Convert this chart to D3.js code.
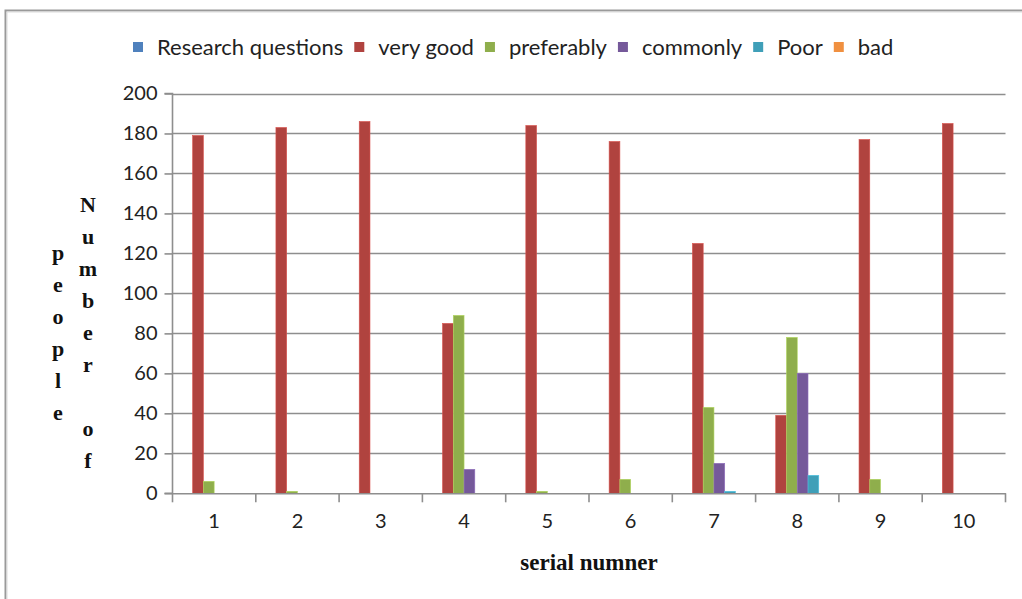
<!DOCTYPE html>
<html><head><meta charset="utf-8">
<script src="https://cdn.jsdelivr.net/npm/d3@7"></script>
<style>body{margin:0;background:#fff}svg{display:block}</style>
</head><body><svg id="c" width="1022" height="599"></svg>
<script>
const categories = ["1","2","3","4","5","6","7","8","9","10"];
const seriesNames = ["Research questions","very good","preferably","commonly","Poor","bad"];
const researchQuestions = [0,0,0,0,0,0,0,0,0,0];
const veryGood   = [179,183,186,85,184,176,125,39,177,185];
const preferably = [6,1,0,89,1,7,43,78,7,0];
const commonly   = [0,0,0,12,0,0,15,60,0,0];
const poor       = [0,0,0,0,0,0,1,9,0,0];
const bad        = [0,0,0,0,0,0,0,0,0,0];
const yTicks = [0,20,40,60,80,100,120,140,160,180,200];
const colors = ["#4F81BD","#B0433F","#8FAE4C","#75599A","#3F9FB8","#F09040"];
const seriesVals = [researchQuestions, veryGood, preferably, commonly, poor, bad];

const svg = d3.select("#c");
const tickFont = "Lato, 'Open Sans', sans-serif";
const serif = "'Liberation Serif', 'DejaVu Serif', serif";

// chart frame
svg.append("rect").attr("x",5.5).attr("y",10.5).attr("width",1030).attr("height",600)
  .attr("fill","none").attr("stroke","#9a9a9a").attr("stroke-width",2);
svg.append("rect").attr("x",7).attr("y",12).attr("width",1030).attr("height",600)
  .attr("fill","none").attr("stroke","#dcdcdc").attr("stroke-width",1);

const pLeft = 172.5, pRight = 1005.5, pTop = 93.5, pBottom = 493.3;
const x0 = d3.scaleBand().domain(categories).range([pLeft,pRight]).padding(0);
const x1 = d3.scaleBand().domain(seriesNames).range([0,x0.bandwidth()]).paddingInner(0).paddingOuter(0.87);
const y = d3.scaleLinear().domain([0,200]).range([pBottom,pTop]);

// gridlines
svg.append("g").selectAll("line").data(yTicks.filter(d=>d>0)).join("line")
  .attr("x1",pLeft).attr("x2",pRight).attr("y1",d=>Math.round(y(d))+0.5).attr("y2",d=>Math.round(y(d))+0.5)
  .attr("stroke","#8e8e8e").attr("stroke-width",1.6);

// bars
const g = svg.append("g");
categories.forEach((c,i)=>{
  seriesNames.forEach((s,j)=>{
    const v = seriesVals[j][i];
    if (v<=0) return;
    g.append("rect").attr("x",x0(c)+x1(s)).attr("y",y(v)).attr("width",x1.bandwidth())
      .attr("height",y(0)-y(v)).attr("fill",colors[j])
      .attr("stroke",d3.color(colors[j]).brighter(0.6)).attr("stroke-width",0.6);
  });
});

// y axis
const yAxis = d3.axisLeft(y).tickValues(yTicks).tickSize(8).tickPadding(7);
const ya = svg.append("g").attr("transform",`translate(${pLeft},0)`).call(yAxis);
ya.select(".domain").attr("stroke","#8e8e8e").attr("stroke-width",1.6).attr("d",`M-8,${pTop}H0V${pBottom}H-8`);
ya.selectAll(".tick line").attr("stroke","#8e8e8e").attr("stroke-width",1.6);
ya.selectAll(".tick text").attr("font-family",tickFont).attr("font-size",20).attr("fill","#222");

// x axis
const xa = svg.append("g").attr("transform",`translate(0,${pBottom})`)
  .call(d3.axisBottom(x0).tickSize(0).tickPadding(21));
xa.select(".domain").attr("stroke","#8e8e8e").attr("stroke-width",1.6);
xa.selectAll(".tick text").attr("font-family",tickFont).attr("font-size",20).attr("fill","#222");
const bounds = categories.map(c=>x0(c)).concat([pRight]);
svg.append("g").selectAll("line").data(bounds).join("line")
  .attr("x1",d=>d).attr("x2",d=>d).attr("y1",pBottom).attr("y2",pBottom+9)
  .attr("stroke","#8e8e8e").attr("stroke-width",1.6);

// axis titles
const col1 = "Number of".split("");
const col2 = "people".split("");
svg.append("g").selectAll("text").data(col1).join("text")
  .attr("x",88).attr("y",(d,i)=>205+i*32+7).attr("text-anchor","middle")
  .attr("font-family",serif).attr("font-weight","bold").attr("font-size",22).attr("fill","#111").text(d=>d);
svg.append("g").selectAll("text").data(col2).join("text")
  .attr("x",58).attr("y",(d,i)=>253+i*32+7).attr("text-anchor","middle")
  .attr("font-family",serif).attr("font-weight","bold").attr("font-size",22).attr("fill","#111").text(d=>d);
svg.append("text").attr("x",589).attr("y",570).attr("text-anchor","middle")
  .attr("font-family",serif).attr("font-weight","bold").attr("font-size",23).attr("fill","#111").text("serial numner");

// legend
const lg = svg.append("g");
let lx = 133;
seriesNames.forEach((s,j)=>{
  lg.append("rect").attr("x",lx).attr("y",42).attr("width",10).attr("height",10).attr("fill",colors[j]);
  const t = lg.append("text").attr("x",lx+24).attr("y",55).attr("font-family",tickFont).attr("font-size",22)
    .attr("fill","#222").text(s);
  lx += 24 + t.node().getComputedTextLength() + 11;
});
</script></body></html>
